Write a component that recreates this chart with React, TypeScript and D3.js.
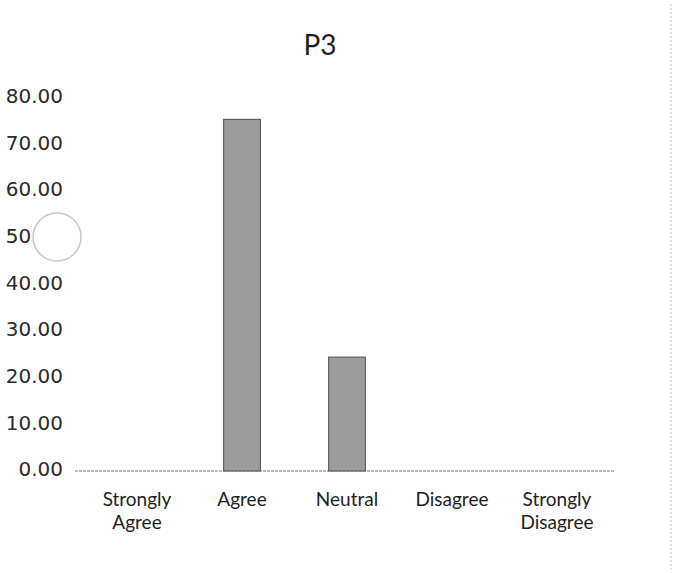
import React from "react";
import * as d3 from "d3";

const title = "P3";
const categories = ["Strongly Agree", "Agree", "Neutral", "Disagree", "Strongly Disagree"];
const values = [0, 75, 24, 0, 0];
const yTicks = [0, 10, 20, 30, 40, 50, 60, 70, 80];

const W = 675;
const H = 573;

export default function App() {
  const x = d3.scaleBand<string>().domain(categories).range([84, 610]).paddingInner(0.65).paddingOuter(0.33);
  const y = d3.scaleLinear().domain([0, 80]).range([469, 96]);
  const fmt = d3.format(".2f");

  return (
    <svg width={W} height={H} style={{ position: "absolute", left: 0, top: 0, background: "#fff" }}>
      <rect x={0} y={0} width={W} height={H} fill="#fff" />
      <line x1={671} x2={671} y1={4} y2={H} stroke="#c4c4c4" strokeWidth={1} strokeDasharray="2,2" />
      <text x={320} y={55} textAnchor="middle" fontFamily="Lato, 'Open Sans', sans-serif" fontSize={28} fill="#1e1e1e">{title}</text>
      {yTicks.map((t) => (
        <text key={t} x={63} y={y(t)} dy="0.36em" textAnchor="end" fontFamily="'DejaVu Sans', sans-serif" fontSize={20} fill="#2a2a2a">{fmt(t)}</text>
      ))}
      <line x1={75} x2={615} y1={y(0) + 2} y2={y(0) + 2} stroke="#bdbdbd" strokeWidth={2} strokeDasharray="3,1" />
      {categories.map((c, i) =>
        values[i] > 0 ? (
          <rect key={c} x={x(c)} y={y(values[i])} width={x.bandwidth()} height={y(0) - y(values[i]) + 2} fill="#9c9c9c" stroke="#4e4e4e" strokeWidth={1} />
        ) : null
      )}
      {categories.map((c) => {
        const words = c.split(" ");
        const cx = (x(c) as number) + x.bandwidth() / 2;
        return (
          <text key={c} x={cx} y={506} textAnchor="middle" fontFamily="Lato, 'Open Sans', sans-serif" fontSize={19} fill="#1e1e1e">
            {words.map((w, j) => (
              <tspan key={j} x={cx} dy={j === 0 ? 0 : 23}>{w}</tspan>
            ))}
          </text>
        );
      })}
      <circle cx={57} cy={237} r={24} fill="#fff" stroke="#c8c8c8" strokeWidth={1.5} />
    </svg>
  );
}
